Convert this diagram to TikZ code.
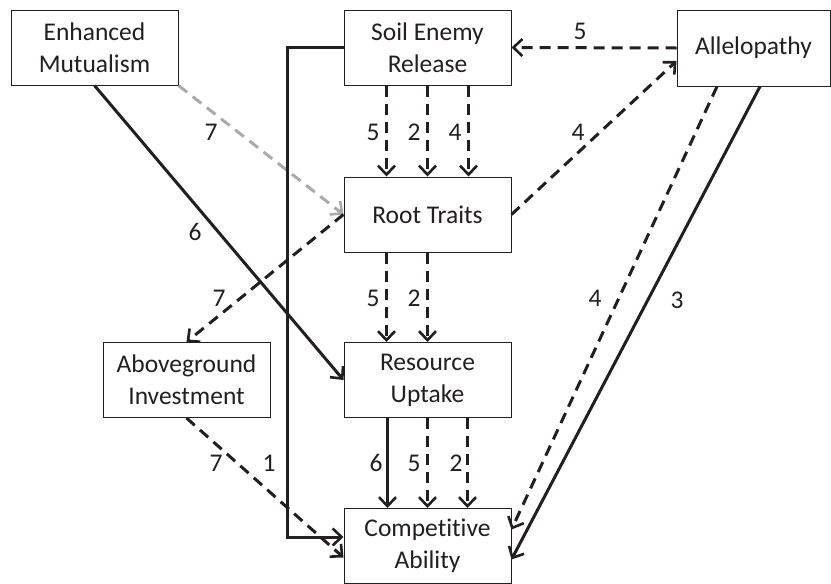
\documentclass[tikz,border=0pt]{standalone}
\usepackage{fontspec}
\setmainfont{Carlito}[Ligatures=NoCommon]
\usetikzlibrary{arrows.meta, calc}
\definecolor{ink}{RGB}{35,31,32}
\definecolor{pale}{RGB}{170,170,170}
\tikzset{
    every node/.style={text=ink, font=\fontsize{25.5}{32}\selectfont},
    box/.style={draw=ink, line width=1pt, rectangle, align=center,
        minimum width=167pt, minimum height=75pt, inner sep=0pt},
    link/.style={draw=ink, line width=3pt,
        -{Straight Barb[length=9pt, width=17pt, line width=2.6pt]}},
    dlink/.style={link, dash pattern=on 11pt off 7pt},
    glink/.style={dlink, draw=pale},
    lbl/.style={inner sep=0pt},
}

\begin{document}
\begin{tikzpicture}[x=1pt, y=-1pt]
        \useasboundingbox (0, 0) rectangle (831, 584);
        \node[box] (em) at (94.5, 47.5) {Enhanced\\Mutualism};
        \node[box] (ser) at (427.5, 47.5) {Soil Enemy\\Release};
        \node[box, minimum width=153pt, minimum height=76pt] (al) at (753.5, 48)
            {Allelopathy};
        \node[box] (rt) at (427.5, 214.5) {Root Traits};
        \node[box] (ai) at (186.5, 380) {Aboveground\\Investment};
        \node[box] (ru) at (427.5, 380) {Resource\\Uptake};
        \node[box] (ca) at (427.5, 546) {Competitive\\Ability};
        \coordinate (elb) at (287, 537);

        % top row
        \draw[glink] (em.south east) -- (rt.west);
        \draw[link] (em.south) -- (ru.west);
        \draw[dlink] (al.west) -- (ser.east);
        \draw[link] (ser.west) -| (elb) -- (elb -| ca.west);
        \foreach \dx in {-41, 0, 41}
            \draw[dlink] ([xshift=\dx pt]ser.south) -- ([xshift=\dx pt]rt.north);

        % middle
        \draw[dlink] (rt.east) -- ([yshift=-13pt]al.west);
        \draw[dlink] (rt.west) -- (ai.north);
        \foreach \dx in {-41, 0}
            \draw[dlink] ([xshift=\dx pt]rt.south) -- ([xshift=\dx pt]ru.north);

        % into competitive ability
        \draw[dlink] (ai.south) -- ([yshift=-11.5pt]ca.west);
        \draw[link] ([xshift=-40pt]ru.south) -- ([xshift=-40pt]ca.north);
        \foreach \dx in {0, 40}
            \draw[dlink] ([xshift=\dx pt]ru.south) -- ([xshift=\dx pt]ca.north);
        \draw[dlink] ([xshift=-36.5pt]al.south) -- ([yshift=16.5pt]ca.east);
        \draw[link] ([xshift=6.5pt]al.south) -- ([yshift=-13.5pt]ca.east);

        % path numbers
        \node[lbl] (n1) at (211, 132) {7};
        \node[lbl] (n2) at (195, 232) {6};
        \node[lbl] (n3) at (580, 31) {5};
        \node[lbl] (n4) at (373, 132) {5};
        \node[lbl] (n5) at (414, 132) {2};
        \node[lbl] (n6) at (455, 132) {4};
        \node[lbl] (n7) at (578, 132) {4};
        \node[lbl] (n8) at (219, 298) {7};
        \node[lbl] (n9) at (373, 298) {5};
        \node[lbl] (n10) at (414, 298) {2};
        \node[lbl] (n11) at (595, 298) {4};
        \node[lbl] (n12) at (677, 300) {3};
        \node[lbl] (n13) at (216, 463) {7};
        \node[lbl] (n14) at (269, 463) {1};
        \node[lbl] (n15) at (376, 463) {6};
        \node[lbl] (n16) at (414, 463) {5};
        \node[lbl] (n17) at (456, 463) {2};
    \end{tikzpicture}
\end{document}
